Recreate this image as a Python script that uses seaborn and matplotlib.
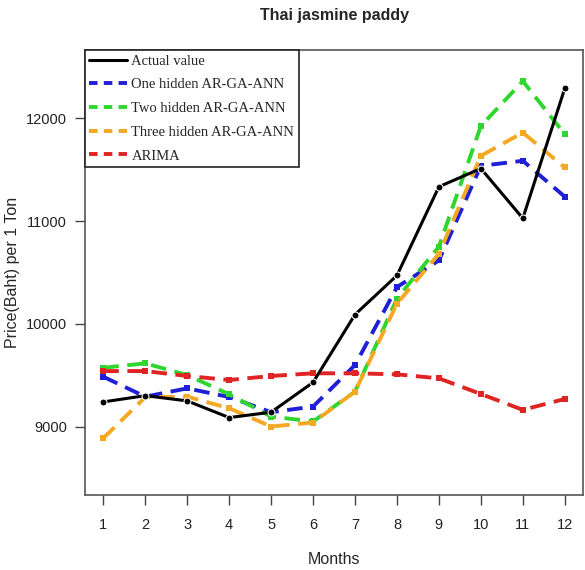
import pandas as pd
import seaborn as sns
import matplotlib.pyplot as plt
from matplotlib.lines import Line2D

# values
months = list(range(1, 13))
actual = [9242, 9303, 9252, 9090, 9142, 9432, 10091, 10471, 11333, 11510, 11026, 12289]
one_hidden = [9487, 9293, 9374, 9290, 9142, 9197, 9600, 10358, 10617, 11536, 11585, 11236]
two_hidden = [9574, 9617, 9503, 9316, 9100, 9052, 9342, 10246, 10752, 11923, 12359, 11843]
three_hidden = [8890, 9287, 9293, 9181, 9003, 9042, 9342, 10197, 10681, 11633, 11859, 11520]
arima = [9542, 9542, 9494, 9455, 9494, 9520, 9520, 9510, 9471, 9319, 9165, 9271]

series_names = ["Actual value", "One hidden AR-GA-ANN", "Two hidden AR-GA-ANN",
                "Three hidden AR-GA-ANN", "ARIMA"]
series_values = [actual, one_hidden, two_hidden, three_hidden, arima]
colors = ["#000000", "#1f1fd6", "#2ed62e", "#f5a823", "#e02424"]

sns.set_style("ticks")
plt.rcParams['font.family'] = ['Liberation Sans', 'DejaVu Sans']

df = pd.DataFrame({"month": months})
for name, vals in zip(series_names, series_values):
    df[name] = vals

fig = plt.figure(figsize=(5.85, 5.7), dpi=100)
ax = fig.add_axes([0.145, 0.132, 0.852, 0.78])

handles = []
for i, name in enumerate(series_names):
    if i == 0:
        sns.lineplot(data=df, x="month", y=name, ax=ax, color=colors[i], lw=2.2,
                     marker="o", markersize=5, zorder=5)
        handles.append(Line2D([], [], color=colors[i], lw=2.2))
    else:
        sns.lineplot(data=df, x="month", y=name, ax=ax, color=colors[i], lw=2.8,
                     marker="s", markersize=5, markeredgewidth=0,
                     dashes=(4, 2.2), zorder=3)
        handles.append(Line2D([], [], color=colors[i], lw=2.8, dashes=(2.2, 1.6)))

ax.set_xlim(0.56, 12.44)
ax.set_ylim(8340, 12660)
ax.set_xticks(months)
ax.set_yticks([9000, 10000, 11000, 12000])
ax.tick_params(direction="out", length=7, width=1, colors="#444444",
               labelcolor="#222222", labelsize=10.5, pad=6)
ax.tick_params(axis="x", pad=10)
for s in ax.spines.values():
    s.set_visible(True)
    s.set_color("#555555")
    s.set_linewidth(1.2)

ax.set_title("Thai jasmine paddy", fontsize=11.5, fontweight="bold", pad=22)
ax.set_xlabel("Months", fontsize=11.5, labelpad=14)
ax.set_ylabel("Price(Baht) per 1 Ton", fontsize=11.5, labelpad=4)

leg = ax.legend(handles, series_names, loc="upper left", borderaxespad=0,
                prop={"family": "Liberation Serif", "size": 10.5},
                frameon=True, fancybox=False, framealpha=1, edgecolor="#222222",
                handlelength=2.6, handletextpad=0.3, labelspacing=0.72,
                borderpad=0.3)
leg.get_frame().set_linewidth(1.2)

plt.savefig("out.png", dpi=100)
